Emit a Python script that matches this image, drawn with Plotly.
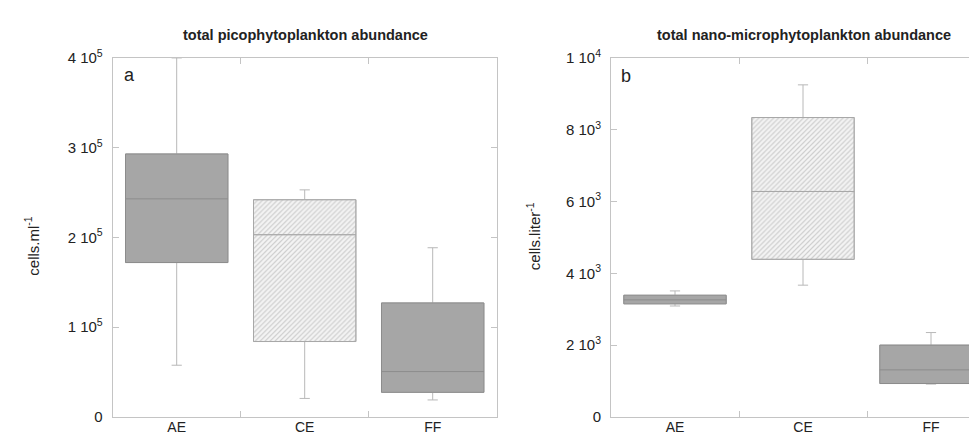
import plotly.graph_objects as go

# ---------------- data ----------------
categories = ["AE", "CE", "FF"]

# panel a: total picophytoplankton abundance (cells.ml-1)
pico_lower = [57600, 20600, 18900]
pico_q1 = [172000, 84000, 27400]
pico_median = [243000, 203000, 50500]
pico_q3 = [293000, 242000, 127000]
pico_upper = [400000, 253000, 188500]

# panel b: total nano-microphytoplankton abundance (cells.liter-1)
nano_lower = [3090, 3670, 915]
nano_q1 = [3150, 4390, 930]
nano_median = [3260, 6280, 1310]
nano_q3 = [3390, 8340, 2000]
nano_upper = [3510, 9250, 2350]

pico_ticks = [0, 100000, 200000, 300000, 400000]
pico_ticktext = ["0", "1 10<sup>5</sup>", "2 10<sup>5</sup>", "3 10<sup>5</sup>", "4 10<sup>5</sup>"]
nano_ticks = [0, 2000, 4000, 6000, 8000, 10000]
nano_ticktext = ["0", "2 10<sup>3</sup>", "4 10<sup>3</sup>", "6 10<sup>3</sup>", "8 10<sup>3</sup>", "1 10<sup>4</sup>"]

titles = ["total picophytoplankton abundance", "total nano-microphytoplankton abundance"]
ytitles = ["cells.ml<sup>-1</sup>", "cells.liter<sup>-1</sup>"]
letters = ["a", "b"]

# ---------------- style ----------------
W, H = 977, 437
FONT = "Liberation Sans, Arial, Helvetica, sans-serif"
BOXFILL = "#a6a6a6"
BOXLINE = "#8c8c8c"
WHISK = "#b8b8b8"
AXIS = "#c4c4c4"
BW = 0.8
HATCHED = "CE"


def px_x(p):
    return p / W


def px_y(p):
    return 1 - p / H


fig = go.Figure()

panels = [
    (pico_lower, pico_q1, pico_median, pico_q3, pico_upper, "x", "y"),
    (nano_lower, nano_q1, nano_median, nano_q3, nano_upper, "x2", "y2"),
]

for lower, q1, med, q3, upper, xa, ya in panels:
    # hatched fill for CE
    idx = categories.index(HATCHED)
    fig.add_trace(go.Bar(
        x=[categories[idx]], y=[q3[idx] - q1[idx]], base=[q1[idx]],
        width=BW, xaxis=xa, yaxis=ya, showlegend=False, hoverinfo="skip",
        marker=dict(color="#f2f2f2", line=dict(width=0),
                    pattern=dict(shape="/", fgcolor="#a9a9a9", bgcolor="#f4f4f4",
                                 size=3.5, solidity=0.35)),
    ))
    # whiskers
    fig.add_trace(go.Box(
        x=categories, q1=q1, median=med, q3=q3, lowerfence=lower, upperfence=upper,
        width=BW, whiskerwidth=0.1, xaxis=xa, yaxis=ya, showlegend=False,
        fillcolor="rgba(0,0,0,0)", line=dict(color=WHISK, width=1),
        boxpoints=False, hoverinfo="skip",
    ))
    # boxes
    for i, c in enumerate(categories):
        fill = "rgba(0,0,0,0)" if c == HATCHED else BOXFILL
        lc = "#a8a8a8" if c == HATCHED else BOXLINE
        fig.add_trace(go.Box(
            x=[c], q1=[q1[i]], median=[med[i]], q3=[q3[i]],
            lowerfence=[q1[i]], upperfence=[q3[i]],
            width=BW, whiskerwidth=0, xaxis=xa, yaxis=ya, showlegend=False,
            fillcolor=fill, line=dict(color=lc, width=1), boxpoints=False,
        ))

# axis geometry (pixels)
y_top, y_bot = 40.7, 416
left_x0, left_x1 = 104.7, 488.7
right_x0 = 603.0
cat_w = (left_x1 - left_x0) / 3
right_end = -0.5 + (W - right_x0) / cat_w

common_x = dict(type="category", categoryorder="array", categoryarray=categories,
                showline=True, linecolor=AXIS, linewidth=1, ticks="inside",
                ticklen=6, tickcolor=AXIS, tickson="boundaries", showgrid=False,
                zeroline=False, tickfont=dict(family=FONT, size=14, color="#222"),
                ticklabelstandoff=-3)
common_y = dict(showline=True, linecolor=AXIS, linewidth=1, ticks="inside",
                ticklen=6, tickcolor=AXIS, showgrid=False, zeroline=False,
                tickfont=dict(family=FONT, size=15, color="#222"), ticklabelstandoff=6)

fig.update_layout(
    width=W, height=H,
    margin=dict(l=0, r=0, t=0, b=0),
    paper_bgcolor="white", plot_bgcolor="white",
    boxmode="overlay", barmode="overlay",
    font=dict(family=FONT, color="#222"),
    xaxis=dict(common_x, domain=[px_x(left_x0), px_x(left_x1)], range=[-0.5, 2.5],
               mirror="ticks", anchor="y"),
    yaxis=dict(common_y, domain=[px_y(y_bot), px_y(y_top)], range=[0, 400000],
               tickvals=pico_ticks, ticktext=pico_ticktext, mirror="ticks", anchor="x"),
    xaxis2=dict(common_x, domain=[px_x(right_x0), 1.0], range=[-0.5, right_end],
                mirror="ticks", anchor="y2"),
    yaxis2=dict(common_y, domain=[px_y(y_bot), px_y(y_top)], range=[0, 10000],
                tickvals=nano_ticks, ticktext=nano_ticktext, mirror=False, anchor="x2"),
)

annos = []
for t, cx in zip(titles, [297.5, 796]):
    annos.append(dict(text="<b>%s</b>" % t, x=px_x(cx), y=px_y(17), xref="paper", yref="paper",
                      showarrow=False, xanchor="center", yanchor="middle",
                      font=dict(family=FONT, size=14.5, color="#222")))
for t, cx, cy in zip(ytitles, [24, 525], [237, 227]):
    annos.append(dict(text=t, x=px_x(cx), y=px_y(cy), xref="paper", yref="paper",
                      showarrow=False, textangle=-90, xanchor="center", yanchor="middle",
                      font=dict(family=FONT, size=15, color="#222")))
for t, lx, ly in zip(letters, [114, 611], [59, 60]):
    annos.append(dict(text=t, x=px_x(lx), y=px_y(ly), xref="paper", yref="paper",
                      showarrow=False, xanchor="left", yanchor="middle",
                      font=dict(family=FONT, size=18, color="#222")))
fig.update_layout(annotations=annos)

fig.write_html("out.html")
